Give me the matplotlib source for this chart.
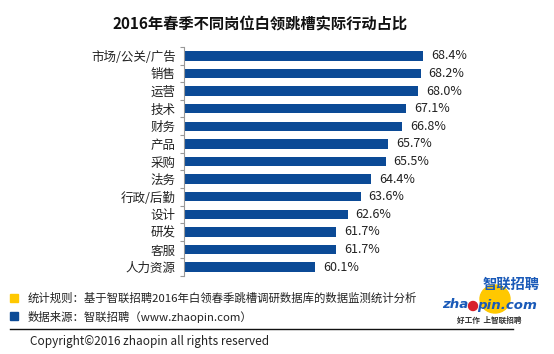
import matplotlib
matplotlib.use("Agg")
import matplotlib.pyplot as plt
import numpy as np
from matplotlib.patches import Rectangle, Ellipse

plt.rcParams['font.family'] = ['Noto Sans CJK SC', 'DejaVu Sans']

categories = ['市场/公关/广告', '销售', '运营', '技术', '财务', '产品', '采购',
              '法务', '行政/后勤', '设计', '研发', '客服', '人力资源']
values = [68.4, 68.2, 68.0, 67.1, 66.8, 65.7, 65.5, 64.4, 63.6, 62.6, 61.7, 61.7, 60.1]

title = '2016年春季不同岗位白领跳槽实际行动占比'
note1 = '统计规则：基于智联招聘2016年白领春季跳槽调研数据库的数据监测统计分析'
note2 = '数据来源：智联招聘（www.zhaopin.com）'
copyright_text = 'Copyright©2016 zhaopin all rights reserved'

blue = '#0b4a96'
yellow = '#ffc800'
logo_blue = '#1a5ab8'

W, H = 554, 354
fig = plt.figure(figsize=(W / 100, H / 100), dpi=100)

# main bar axes (pixel placement)
ax = fig.add_axes([184 / W, (H - 276) / H, 260 / W, 229 / H])
y = np.arange(len(categories))
ax.barh(y, [v - 50 for v in values], left=50, height=0.54, color=blue)
ax.set_xlim(50, 70)
ax.set_ylim(len(categories) - 0.5, -0.5)
for yi, v in zip(y, values):
    ax.text(v + 0.6, yi, f'{v:.1f}%', va='center', ha='left', fontsize=9, color='#222222')

ax.set_yticks(y)
ax.set_yticklabels(categories, fontsize=9, color='#222222')
ax.set_yticks(np.arange(-0.5, len(categories)), minor=True)
ax.tick_params(axis='y', which='major', length=0, pad=6)
ax.tick_params(axis='y', which='minor', length=3, color='#999999', width=0.8)
ax.set_xticks([])
for s in ['top', 'right', 'bottom']:
    ax.spines[s].set_visible(False)
ax.spines['left'].set_color('#999999')
ax.spines['left'].set_linewidth(0.8)

fig.text(260 / W, 1 - 24 / H, title, ha='center', va='center', fontsize=11,
         fontweight='bold', color='#111111')

# footer
fig.patches.append(Rectangle((10 / W, (H - 302) / H), 8 / W, 8 / H,
                             transform=fig.transFigure, color=yellow))
fig.patches.append(Rectangle((10 / W, (H - 320) / H), 8 / W, 8 / H,
                             transform=fig.transFigure, color=blue))
fig.text(28 / W, 1 - 298 / H, note1, ha='left', va='center', fontsize=8.2, color='#222222')
fig.text(28 / W, 1 - 317 / H, note2, ha='left', va='center', fontsize=8.2, color='#222222')
fig.add_artist(plt.Line2D([10 / W, 513 / W], [1 - 329 / H, 1 - 329 / H],
                          transform=fig.transFigure, color='#111111', linewidth=1))
fig.text(30 / W, 1 - 342 / H, copyright_text, ha='left', va='center', fontsize=8.5,
         color='#222222')

# logo
fig.patches.append(Ellipse((495 / W, 1 - 299 / H), 30 / W, 28 / H,
                           transform=fig.transFigure, color=yellow))
fig.patches.append(Ellipse((473 / W, 1 - 306 / H), 9 / W, 9 / H,
                           transform=fig.transFigure, color='#d8202a', zorder=3))
fig.text(511 / W, 1 - 285 / H, '智联招聘', ha='center', va='center', fontsize=10.3,
         fontweight='bold', style='italic', color=logo_blue)
fig.text(468 / W, 1 - 305 / H, 'zha', ha='right', va='center', fontsize=9.6,
         fontweight='bold', style='italic', color=logo_blue, family='DejaVu Sans')
fig.text(477 / W, 1 - 305 / H, 'pin.com', ha='left', va='center', fontsize=9.6,
         fontweight='bold', style='italic', color=logo_blue, family='DejaVu Sans')
fig.text(489 / W, 1 - 320 / H, '好工作  上智联招聘', ha='center', va='center', fontsize=5.5,
         fontweight='bold', style='italic', color='#333333')

fig.savefig('out.png', dpi=100)
